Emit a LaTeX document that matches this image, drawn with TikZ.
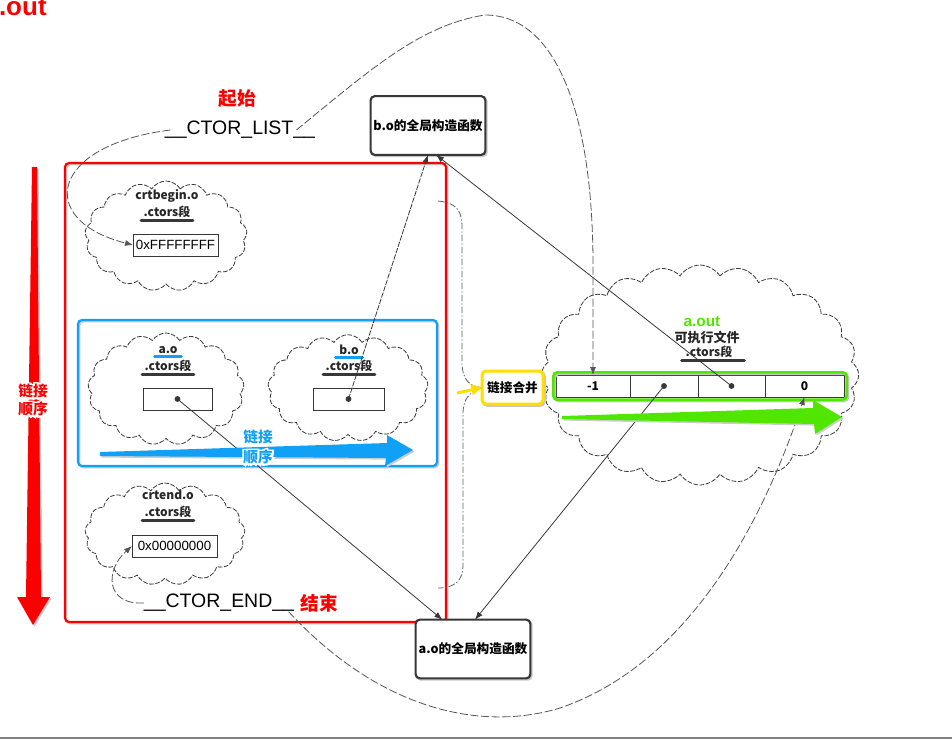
\documentclass[tikz,border=0pt]{standalone}
\usepackage{fontspec}
\setmainfont{Liberation Sans}
\newfontfamily\cjk{Noto Sans CJK SC}
\newfontfamily\cjkhalo{Noto Sans CJK SC}[BoldFeatures={FakeBold=25}]
\usetikzlibrary{shapes.symbols,arrows.meta,fit}

\definecolor{mkred}{RGB}{250,0,0}
\definecolor{mkblue}{RGB}{16,160,245}
\definecolor{mkgreen}{RGB}{80,230,0}
\definecolor{mkyellow}{RGB}{255,222,0}
\definecolor{ink}{RGB}{55,55,55}

% white halo round a coloured label that sits on an arrow
\newcommand\glow[2]{\rlap{\cjkhalo\bfseries\color{white}#2}\textcolor{#1}{#2}}

\begin{document}
\begin{tikzpicture}[x=0.75pt,y=-0.75pt,
  every node/.style={inner sep=0pt, outer sep=0pt},
  puff/.style={cloud, cloud ignores aspect, draw=ink, line width=0.6pt,
    dash pattern=on 3.5pt off 1.2pt, cloud puffs=#1, cloud puff arc=115},
  puff/.default=17,
  tag/.style={font=\cjk\bfseries\fontsize{9}{10}\selectfont, text=black!85},
  cellfont/.style={font=\cjk\bfseries\fontsize{9}{10}\selectfont},
  uline/.style={draw=ink, line width=2.2pt, line cap=round},
  bline/.style={draw=mkblue, line width=2pt, line cap=round},
  slot/.style={draw=ink, line width=0.7pt, minimum height=16.5pt},
  shadedrop/.style={preaction={draw=black!22, transform canvas={xshift=1pt,yshift=-1pt}}},
  funcbox/.style={draw=ink, line width=1.6pt, rounded corners=3pt, fill=white,
    minimum width=86pt, minimum height=44pt, shadedrop,
    font=\cjk\bfseries\fontsize{9.5}{10}\selectfont},
  hiframe/.style={draw=#1, line width=1.6pt, rounded corners=3pt, shadedrop},
  ctorlink/.style={draw=ink, line width=0.6pt, -{Latex[length=6pt,width=4.5pt]}},
  ctortrace/.style={draw=ink!85, line width=0.6pt,
    dash pattern=on 6pt off 2pt, -{Latex[length=6pt,width=4.5pt]}},
  bracestyle/.style={draw=ink!80, line width=0.6pt, dash pattern=on 5pt off 1.5pt on 1pt off 1.5pt},
  bigarrow/.style={fill=#1, preaction={fill=black!20, transform canvas={xshift=1.2pt,yshift=-1.2pt}}},
]
\useasboundingbox (0,0) rectangle (952,740);

% ---- clouds of the object files ----
\node[puff, minimum width=121.5pt, minimum height=82.5pt] (cbcloud) at (166,236) {};
\node[puff, minimum width=117pt, minimum height=84pt] (aocloud) at (166,389) {};
\node[puff, minimum width=120pt, minimum height=80pt] (bocloud) at (348,388) {};
\node[puff, minimum width=120pt, minimum height=76.5pt] (cecloud) at (165,534) {};
\node[puff=24, minimum width=238pt, minimum height=165pt] (outcloud) at (700,375) {};

% ---- highlight frames ----
\node[hiframe=mkred, minimum width=285.75pt, minimum height=344.25pt] (orderframe) at (255.5,392.5) {};
\node[hiframe=mkblue, minimum width=269.25pt, minimum height=109.5pt] (objframe) at (257.5,393) {};

% ---- crtbegin.o ----
\node[tag] (cbname) at (167,196) {crtbegin.o};
\node[tag] (cbsec) at (167,212) {.ctors段};
\draw[uline] ([xshift=-2pt,yshift=-2pt]cbsec.south west) -- ([xshift=2pt,yshift=-2pt]cbsec.south east);
\node[slot, minimum width=63.75pt, font=\fontsize{10}{10}\selectfont] (ffbox) at (175.5,245) {0xFFFFFFFF};

% ---- a.o ----
\node[tag] (aoname) at (168,350) {a.o};
\draw[bline] ([xshift=-3pt,yshift=-2pt]aoname.south west) -- ([xshift=3pt,yshift=-2pt]aoname.south east);
\node[tag] (aosec) at (168,366) {.ctors段};
\draw[uline] ([xshift=-2pt,yshift=-2pt]aosec.south west) -- ([xshift=2pt,yshift=-2pt]aosec.south east);
\node[slot, minimum width=51.75pt] (aoslot) at (177.5,399) {};
\fill[ink] (aoslot.center) circle[radius=2.2pt];

% ---- b.o ----
\node[tag] (boname) at (349,350) {b.o};
\draw[bline] ([xshift=-3pt,yshift=-2pt]boname.south west) -- ([xshift=3pt,yshift=-2pt]boname.south east);
\node[tag] (bosec) at (349,366) {.ctors段};
\draw[uline] ([xshift=-2pt,yshift=-2pt]bosec.south west) -- ([xshift=2pt,yshift=-2pt]bosec.south east);
\node[slot, minimum width=53.25pt] (boslot) at (348.5,399) {};
\fill[ink] (boslot.center) circle[radius=2.2pt];

% ---- crtend.o ----
\node[tag] (cename) at (168,495) {crtend.o};
\node[tag] (cesec) at (168,512) {.ctors段};
\draw[uline] ([xshift=-2pt,yshift=-2pt]cesec.south west) -- ([xshift=2pt,yshift=-2pt]cesec.south east);
\node[slot, minimum width=63.75pt, font=\fontsize{10}{10}\selectfont] (zerobox) at (174.5,546) {0x00000000};

% ---- a.out ----
\node[font=\bfseries\fontsize{11.5}{12}\selectfont, text=mkgreen] (outname) at (702,322) {a.out};
\node[tag, font=\cjk\bfseries\fontsize{9.75}{10}\selectfont] (outkind) at (707,338) {可执行文件};
\node[tag] (outsec) at (709,352) {.ctors段};
\draw[uline] ([xshift=-3pt,yshift=-2pt]outsec.south west) -- ([xshift=9pt,yshift=-2pt]outsec.south east);

\node[slot, cellfont, minimum width=55.5pt] (cell1) at (593,386) {-1};
\node[slot, minimum width=51pt, anchor=west] (cell2) at (cell1.east) {};
\node[slot, minimum width=50.25pt, anchor=west] (cell3) at (cell2.east) {};
\node[slot, cellfont, minimum width=59.25pt, anchor=west] (cell4) at (cell3.east) {0};
\fill[ink] (cell2.center) circle[radius=2.2pt];
\fill[ink] (cell3.center) circle[radius=2.2pt];
\node[hiframe=mkgreen, line width=2pt, fit=(cell1)(cell4), inner sep=2pt] (arrayframe) {};

% ---- merge step ----
\node[hiframe=mkyellow, line width=2.25pt, fill=white, minimum width=45.75pt, minimum height=24.75pt,
  font=\cjk\bfseries\fontsize{9.5}{10}\selectfont] (merge) at (512.5,387.5) {链接合并};

% ---- global constructors ----
\node[funcbox] (bofunc) at (428,125.5) {b.o的全局构造函数};
\node[funcbox] (aofunc) at (473,649) {a.o的全局构造函数};

% ---- symbols and notes ----
\node[font=\fontsize{14.6}{15}\selectfont] (ctorlist) at (240,130) {\_\_CTOR\_LIST\_\_};
\node[font=\fontsize{14.6}{15}\selectfont] (ctorend) at (219,603) {\_\_CTOR\_END\_\_};
\node[font=\cjk\bfseries\fontsize{14}{14}\selectfont, text=mkred] (startlbl) at (237,99) {起始};
\node[font=\cjk\bfseries\fontsize{14}{14}\selectfont, text=mkred] (endlbl) at (319,603) {结束};
\node[font=\bfseries\fontsize{19.5}{20}\selectfont, text=mkred, anchor=base west] (outtitle) at (-1,15) {.out};

% ---- pointers ----
\draw[ctorlink, dash pattern=on 4pt off 1pt] (boslot.center) -- (bofunc.south);
\draw[ctorlink] (cell3.center) -- ([xshift=6pt]bofunc.south);
\draw[ctorlink] (aoslot.center) -- ([xshift=-23pt]aofunc.north);
\draw[ctorlink] (cell2.center) -- ([xshift=1.5pt]aofunc.north);

\draw[ctortrace] ([xshift=4pt]ctorlist.west) .. controls (50,145) and (35,220) .. (ffbox.west);
\draw[ctortrace] ([xshift=-14pt]ctorlist.east) .. controls (370,70) and (420,25) .. (485,15)
  .. controls (555,15) and (592,110) .. (593,260) -- (cell1.north);
\draw[ctortrace] (ctorend.west) .. controls (105,605) and (105,570) .. (zerobox.west);
\draw[ctortrace] ([xshift=-4pt]ctorend.south east) .. controls (370,700) and (470,735) .. (560,708)
  .. controls (700,660) and (770,500) .. (cell4.south);

% ---- merge brace ----
\coordinate (bracetop) at (438,201);
\coordinate (bracebot) at (438,588);
\coordinate (mergetail) at (457,393);
\draw[bracestyle] (bracetop) .. controls (458,203) and (462,212) .. (462,228) -- (462,362)
  .. controls (462,380) and (470,387) .. (merge.west)
  .. controls (470,392) and (463,398) .. (463,414) -- (463,566)
  .. controls (463,580) and (455,588) .. (bracebot);
\draw[mkyellow, line width=2.2pt, -{Triangle[length=8pt,width=8pt]}] (mergetail) -- (merge.west);

% ---- order arrows ----
\fill[bigarrow=mkred] (32,167) -- (37,167) -- (41,597) -- (50,597) -- (33,625) -- (17,597) -- (26,597) -- cycle;
\fill[bigarrow=mkblue] (100,452) -- (387,443) -- (387,435) -- (413,450) -- (385,466) -- (386,458) -- (100,456) -- cycle;
\fill[bigarrow=mkgreen] (562,416) -- (813,408) -- (813,400) -- (842,417) -- (815,434) -- (814,424) -- (562,419) -- cycle;

\node[font=\cjk\bfseries\fontsize{11}{13.5}\selectfont, align=center] (redorder) at (33,400)
  {\glow{mkred}{链接}\\\glow{mkred}{顺序}};
\node[font=\cjk\bfseries\fontsize{11}{15}\selectfont, align=center] (blueorder) at (258,447)
  {\glow{mkblue}{链接}\\\glow{mkblue}{顺序}};

% scanner edge along the bottom
\draw[black!50, line width=1.5pt] (0,737.5) -- (952,737.5);
\end{tikzpicture}
\end{document}
